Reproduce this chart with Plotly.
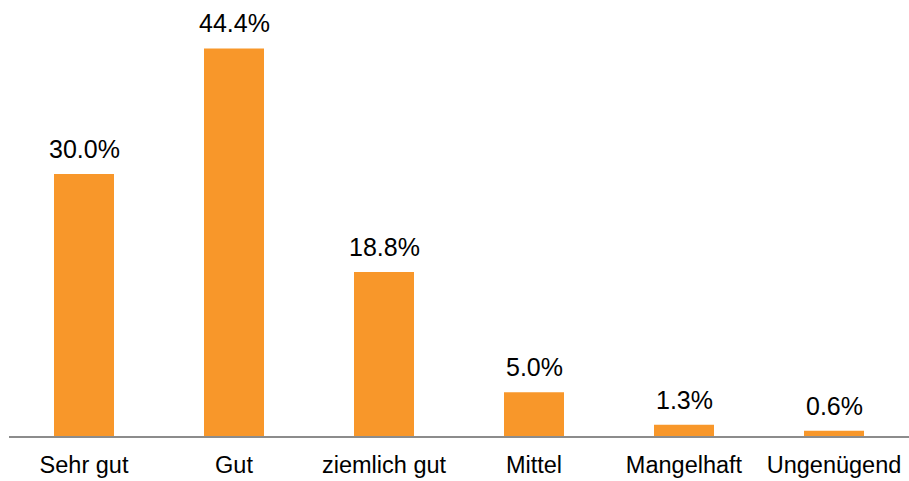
import plotly.graph_objects as go

categories = ["Sehr gut", "Gut", "ziemlich gut", "Mittel", "Mangelhaft", "Ungenügend"]
values = [30.0, 44.4, 18.8, 5.0, 1.3, 0.6]
labels = [f"{v:.1f}%" for v in values]

FONT = "Liberation Sans, Arial, sans-serif"

fig = go.Figure(go.Bar(
    x=categories, y=values, width=0.4,
    marker=dict(color="#F8972A", line=dict(width=0)),
    hoverinfo="skip",
))

for c, v, t in zip(categories, values, labels):
    fig.add_annotation(x=c, y=v, text=t, showarrow=False, yanchor="bottom",
                       yshift=9, font=dict(family=FONT, size=25, color="#000000"))

fig.update_layout(
    width=909, height=481,
    margin=dict(l=9, r=0, t=10, b=45),
    paper_bgcolor="white", plot_bgcolor="white",
    showlegend=False, bargap=0.6,
    font=dict(family=FONT, size=23.5, color="#000000"),
)
fig.update_xaxes(showline=True, linecolor="#8C8C8C", linewidth=2,
                 ticks="outside", ticklen=7, tickcolor="rgba(0,0,0,0)",
                 automargin=False,
                 tickfont=dict(family=FONT, size=23.5, color="#000000"))
fig.update_yaxes(range=[0, 48.8], visible=False, showgrid=False)

fig.write_html("out.html",
               config={"displayModeBar": False, "staticPlot": True},
               post_script="document.body.style.margin='0';document.body.style.overflow='hidden';")
